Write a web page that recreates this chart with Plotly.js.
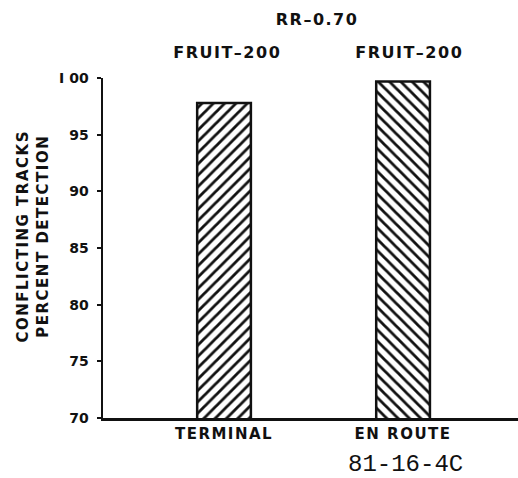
<!DOCTYPE html>
<html>
<head>
<meta charset="utf-8">
<script src="https://cdn.plot.ly/plotly-3.0.1.min.js"></script>
<style>
html,body{margin:0;padding:0;background:#fff;}
#chart .annotation-text.spaced, #chart .xtick text {letter-spacing:1.5px;}
</style>
</head>
<body>
<div id="chart" style="width:518px;height:478px;"></div>
<script>
// Data
const categories = ["TERMINAL", "EN ROUTE"];
const detection = [97.8, 99.7];
const barLabels = ["FRUIT\u2013200", "FRUIT\u2013200"];
const hatch = ["/", "\\"];
const yTicks = [70, 75, 80, 85, 90, 95, 100];
const yTickText = ["70", "75", "80", "85", "90", "95", "I 00"];
const chartTitle = "RR\u20130.70";
const yTitle1 = "CONFLICTING TRACKS";
const yTitle2 = "PERCENT DETECTION";
const figureId = "81-16-4C";

const F = "DejaVu Sans, sans-serif";
const ink = "#111";

const trace = {
  type: "bar",
  x: categories,
  y: detection,
  width: 0.30,
  marker: {
    color: "#fff",
    line: {color: ink, width: 2.5},
    pattern: {shape: hatch, fgcolor: ink, bgcolor: "#fff", size: 8, solidity: 0.35}
  },
  hoverinfo: "skip"
};

const bold = (s) => s;
const annotations = [
  {text: chartTitle, xref: "paper", yref: "paper", x: 0.516, y: 1.171, xanchor: "center", yanchor: "middle",
   showarrow: false, font: {family: F, size: 16, color: ink, weight: 700}},
  {text: yTitle1, xref: "paper", yref: "paper", x: -0.193, y: 0.535, xanchor: "center", yanchor: "middle",
   textangle: -90, showarrow: false, font: {family: F, size: 15, color: ink, weight: 700}},
  {text: yTitle2, xref: "paper", yref: "paper", x: -0.145, y: 0.535, xanchor: "center", yanchor: "middle",
   textangle: -90, showarrow: false, font: {family: F, size: 15, color: ink, weight: 700}},
  {text: figureId, xref: "x", yref: "paper", x: categories[1], xshift: 2, y: -0.138,
   xanchor: "center", yanchor: "middle", showarrow: false,
   font: {family: "Liberation Mono, monospace", size: 24, color: ink}}
];
categories.forEach((c, i) => {
  annotations.push({text: barLabels[i], xref: "x", yref: "paper", x: c, xshift: i === 0 ? 3 : 6,
    y: 1.076, xanchor: "center", yanchor: "middle", showarrow: false,
    font: {family: F, size: 16, color: ink, weight: 700}});
});

const layout = {
  width: 518, height: 478,
  margin: {l: 103, r: 0, t: 78, b: 60},
  paper_bgcolor: "#fff", plot_bgcolor: "#fff",
  showlegend: false,
  bargap: 0,
  xaxis: {
    type: "category", categoryorder: "array", categoryarray: categories,
    range: [-0.676, 1.642], showgrid: false, zeroline: false,
    showline: true, linecolor: ink, linewidth: 2.5,
    ticks: "", tickfont: {family: F, size: 15, color: ink, weight: 700},
    fixedrange: true
  },
  yaxis: {
    range: [70, 100], tickvals: yTicks, ticktext: yTickText,
    showgrid: false, zeroline: false,
    showline: true, linecolor: ink, linewidth: 2.5,
    ticks: "outside", ticklen: 4, tickwidth: 2, tickcolor: ink,
    ticklabelstandoff: 5,
    tickfont: {family: F, size: 14, color: ink, weight: 700},
    fixedrange: true
  },
  yaxis2: {
    overlaying: "y", range: [70, 100], tickvals: yTicks, showticklabels: false,
    showgrid: false, zeroline: false, showline: false,
    ticks: "inside", ticklen: 4, tickwidth: 2, tickcolor: ink, side: "left"
  },
  annotations: annotations
};

Plotly.newPlot("chart", [trace], layout, {staticPlot: true, displayModeBar: false}).then(() => {
  document.querySelectorAll("#chart .annotation-text").forEach((t) => {
    if (t.textContent !== figureId) t.classList.add("spaced");
  });
});
</script>
</body>
</html>
